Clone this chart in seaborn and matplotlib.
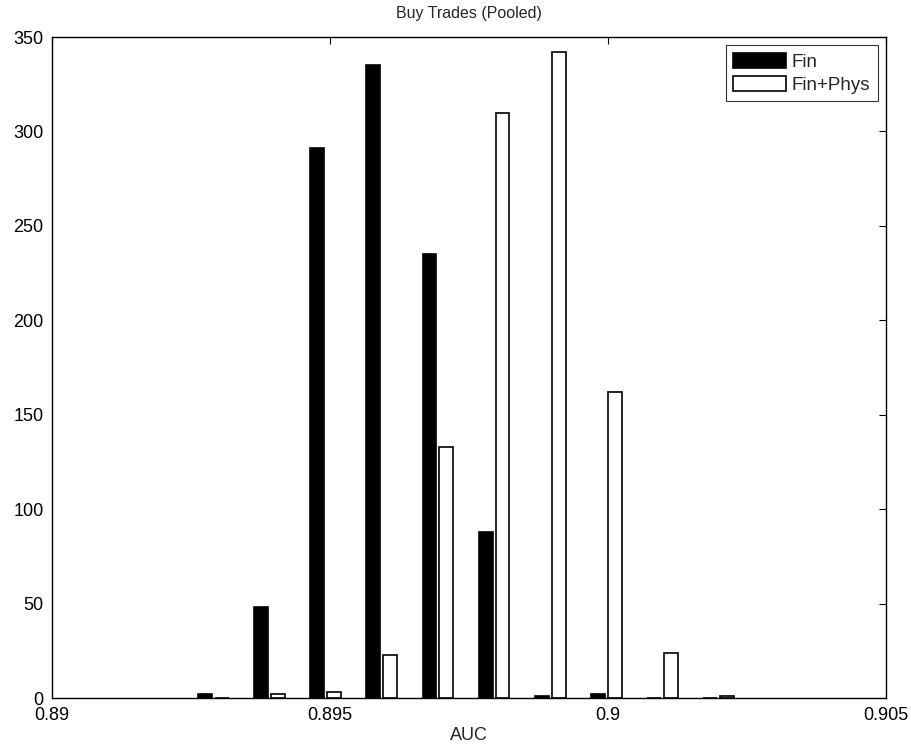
import numpy as np
import pandas as pd
import matplotlib
matplotlib.use("Agg")
import matplotlib.pyplot as plt
import seaborn as sns

# Data
bin_centers = [0.8929, 0.89391, 0.89492, 0.89593, 0.89694, 0.89795, 0.89896, 0.89997, 0.90098, 0.90199]
fin = [2, 48, 291, 335, 235, 88, 1, 2, 0, 0]
fin_phys = [0, 2, 3, 23, 133, 310, 342, 162, 24, 1]
series = ["Fin", "Fin+Phys"]
x_ticks = [0.89, 0.895, 0.9, 0.905]
x_ticklabels = ["0.89", "0.895", "0.9", "0.905"]
y_ticks = [0, 50, 100, 150, 200, 250, 300, 350]

df = pd.DataFrame({
    "AUC": bin_centers * 2,
    "Count": fin + fin_phys,
    "Model": [series[0]] * len(fin) + [series[1]] * len(fin_phys),
})

sns.set_style("white")
plt.rcParams["font.family"] = ["Liberation Sans", "DejaVu Sans"]

fig = plt.figure(figsize=(9.12, 7.48), dpi=100)
ax = fig.add_axes([0.057, 0.0668, 0.9145, 0.8837])

sns.barplot(data=df, x="AUC", y="Count", hue="Model", native_scale=True,
            width=0.6, gap=0.18, palette={"Fin": "black", "Fin+Phys": "white"},
            edgecolor="black", linewidth=1.2, errorbar=None, ax=ax)

ax.set_xlim(0.89, 0.905)
ax.set_ylim(0, 350)
ax.set_xticks(x_ticks)
ax.set_xticklabels(x_ticklabels)
ax.set_yticks(y_ticks)
ax.tick_params(direction="in", top=True, right=True, length=5, width=0.8,
               labelsize=13, colors="black")
ax.tick_params(axis="x", pad=6.5)
ax.tick_params(axis="y", pad=6)
for s in ax.spines.values():
    s.set_color("black")
    s.set_linewidth(1.0)
    s.set_visible(True)

ax.set_xlabel("AUC", fontsize=13, labelpad=2)
ax.set_ylabel("")
ax.set_title("Buy Trades (Pooled)", fontsize=11.5, pad=14)

leg = ax.legend(loc="upper right", fontsize=13.5, frameon=True, fancybox=False,
                edgecolor="black", handlelength=2.8, handleheight=0.85,
                borderaxespad=0.45, labelspacing=0.25, handletextpad=0.3,
                borderpad=0.4)
leg.get_frame().set_linewidth(0.8)

fig.savefig("out.png", dpi=100)
